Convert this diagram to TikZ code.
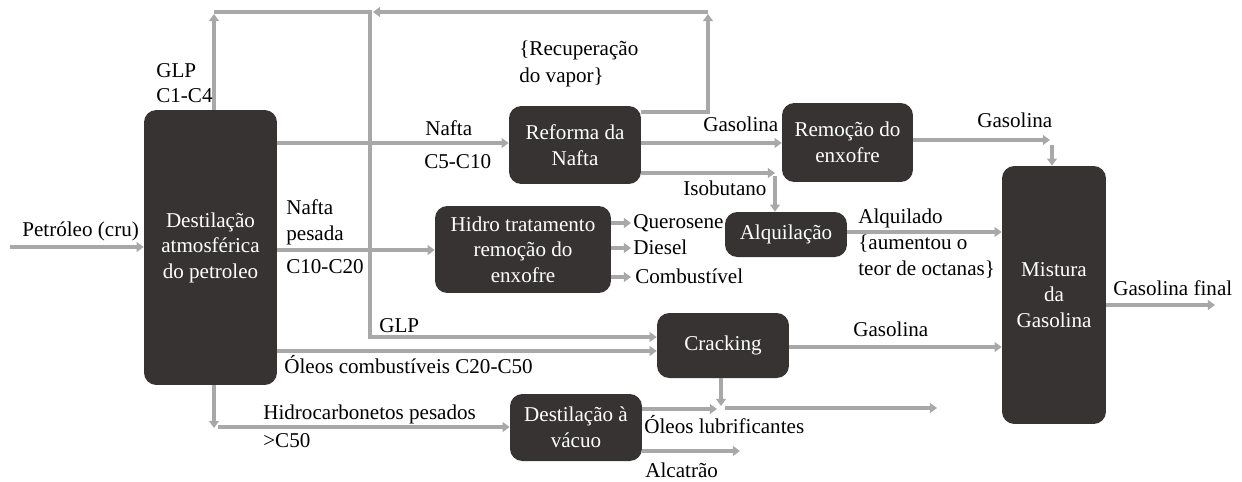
\documentclass[tikz,border=0pt]{standalone}
\usepackage{fontspec}
\setmainfont{Liberation Serif}
\usetikzlibrary{arrows.meta}
\definecolor{boxc}{RGB}{56,51,51}
\definecolor{linec}{RGB}{168,168,168}
\begin{document}
\begin{tikzpicture}[x=0.02cm,y=-0.02cm,
  every node/.style={font=\fontsize{12}{14.5}\selectfont},
  box/.style={fill=boxc, rounded corners=7pt, text=white, align=center, inner sep=0pt},
  lbl/.style={anchor=west, inner sep=0pt, text height=8.5pt, text depth=2.5pt},
  flow/.style={draw=linec, line width=2.1pt, -{Triangle[length=4pt,width=5.5pt]}},
  plain/.style={draw=linec, line width=2.1pt}]
\useasboundingbox (0,0) rectangle (1242,481);

% boxes
\node[box, minimum width=2.66cm, minimum height=5.5cm] (D) at (210.5,247.5) {Destilação\\atmosférica\\do petroleo};
\node[box, minimum width=2.64cm, minimum height=1.56cm] (Ref) at (575,145) {Reforma da\\Nafta};
\node[box, minimum width=3.52cm, minimum height=1.74cm] (Hid) at (523,249.5) {Hidro tratamento\\remoção do\\enxofre};
\node[box, minimum width=2.44cm, minimum height=0.9cm] (Alq) at (786,234.5) {Alquilação};
\node[box, minimum width=2.62cm, minimum height=1.58cm] (Rem) at (847.5,142.5) {Remoção do\\enxofre};
\node[box, minimum width=2.08cm, minimum height=5.16cm] (Mis) at (1054,295) {Mistura\\da\\Gasolina};
\node[box, minimum width=2.64cm, minimum height=1.3cm] (Crk) at (723,345.5) {Cracking};
\node[box, minimum width=2.64cm, minimum height=1.34cm] (Vac) at (576,427.5) {Destilação à\\vácuo};

% helper coordinates
\coordinate (pIn) at (10,247);
\coordinate (yNafta) at (0,143);
\coordinate (yPes) at (0,250);
\coordinate (yGLP) at (0,337);
\coordinate (yOC) at (0,351);
\coordinate (xGLP) at (214,0);
\coordinate (glpTop) at (214,14);
\coordinate (tl) at (214,12);
\coordinate (tj) at (370,12);
\coordinate (vr) at (708,112);
\coordinate (vtA) at (708,14);
\coordinate (vt) at (708,12);
\coordinate (tjA) at (373,12);
\coordinate (yIso) at (0,173);
\coordinate (isoC) at (775,173);
\coordinate (isoD) at (775,176);
\coordinate (yGas1) at (0,143);
\coordinate (yGas2) at (0,140);
\coordinate (gc) at (1050,140);
\coordinate (gd) at (1052,145);
\coordinate (yQ) at (0,223);
\coordinate (yDi) at (0,248);
\coordinate (yCo) at (0,277);
\coordinate (qE) at (631,223);
\coordinate (dE) at (631,248);
\coordinate (cE) at (631,277);
\coordinate (yAlq) at (0,232);
\coordinate (yCg) at (0,347);
\coordinate (yGf) at (0,305);
\coordinate (gfE) at (1215,305);
\coordinate (hx) at (214,0);
\coordinate (hc) at (214,428);
\coordinate (hs) at (218,427);
\coordinate (yOl) at (0,409);
\coordinate (olJ) at (717,409);
\coordinate (olX) at (721,0);
\coordinate (olD) at (721,406);
\coordinate (olS) at (725,408);
\coordinate (olE) at (937,408);
\coordinate (yAl) at (0,451);
\coordinate (alE) at (740,451);

% connectors
\draw[flow] (pIn) -- (D.west |- pIn);
\draw[flow] (D.north -| xGLP) -- (glpTop);
\draw[flow] (tl) -- (tj) |- (Crk.west |- yGLP);
\draw[flow] (Ref.east |- vr) -| (vtA);
\draw[flow] (vt) -- (tjA);
\draw[flow] (D.east |- yNafta) -- (Ref.west |- yNafta);
\draw[flow] (D.east |- yPes) -- (Hid.west |- yPes);
\draw[flow] (D.east |- yOC) -- (Crk.west |- yOC);
\draw[flow] (Ref.east |- yGas1) -- (Rem.west |- yGas1);
\draw[flow] (Ref.east |- yIso) -- (isoC);
\draw[flow] (isoD) -- (Alq.north -| isoD);
\draw[flow] (Rem.east |- yGas2) -- (gc);
\draw[flow] (gd) -- (Mis.north -| gd);
\draw[flow] (Hid.east |- yQ) -- (qE);
\draw[flow] (Hid.east |- yDi) -- (dE);
\draw[flow] (Hid.east |- yCo) -- (cE);
\draw[flow] (Alq.east |- yAlq) -- (Mis.west |- yAlq);
\draw[flow] (Crk.east |- yCg) -- (Mis.west |- yCg);
\draw[flow] (Mis.east |- yGf) -- (gfE);
\draw[flow] (D.south -| hx) -- (hc);
\draw[flow] (hs) -- (Vac.west |- hs);
\draw[flow] (Vac.east |- yOl) -- (olJ);
\draw[flow] (Crk.south -| olX) -- (olD);
\draw[flow] (olS) -- (olE);
\draw[flow] (Vac.east |- yAl) -- (alE);

% labels
\node[lbl] (lPet) at (22,231) {Petróleo (cru)};
\node[lbl] (lGlp1) at (156,72) {GLP};
\node[lbl] (lGlp2) at (156,97) {C1-C4};
\node[lbl] (lNaf1) at (425,130) {Nafta};
\node[lbl] (lNaf2) at (424,163) {C5-C10};
\node[lbl] (lRec1) at (519,50) {\{Recuperação};
\node[lbl] (lRec2) at (519,77) {do vapor\}};
\node[lbl] (lGas1) at (703,126) {Gasolina};
\node[lbl] (lIso) at (683,190) {Isobutano};
\node[lbl] (lGas2) at (977,122) {Gasolina};
\node[lbl] (lNp1) at (286,209) {Nafta};
\node[lbl] (lNp2) at (286,235) {pesada};
\node[lbl] (lNp3) at (286,268) {C10-C20};
\node[lbl] (lQue) at (633,223) {Querosene};
\node[lbl] (lDie) at (633,249) {Diesel};
\node[lbl] (lCom) at (635,278) {Combustível};
\node[lbl] (lAlq1) at (858,218) {Alquilado};
\node[lbl] (lAlq2) at (858,244) {\{aumentou o};
\node[lbl] (lAlq3) at (858,270) {teor de octanas\}};
\node[lbl] (lGlp3) at (379,327) {GLP};
\node[lbl] (lOc) at (284,368) {Óleos combustíveis C20-C50};
\node[lbl] (lGas3) at (853,331) {Gasolina};
\node[lbl] (lGf) at (1113,290) {Gasolina final};
\node[lbl] (lHid1) at (263,414) {Hidrocarbonetos pesados};
\node[lbl] (lHid2) at (263,442) {>C50};
\node[lbl] (lOl) at (644,428) {Óleos lubrificantes};
\node[lbl] (lAlc) at (645,472) {Alcatrão};
\end{tikzpicture}
\end{document}
